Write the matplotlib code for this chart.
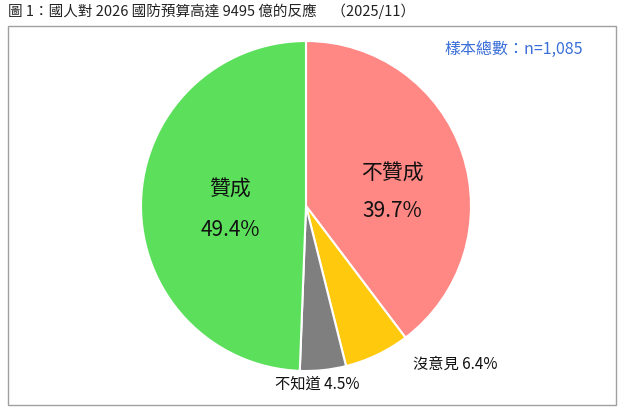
import matplotlib
matplotlib.use("Agg")
import matplotlib.pyplot as plt
from matplotlib.patches import Rectangle

plt.rcParams['font.family'] = ['Noto Sans CJK TC', 'DejaVu Sans']

labels = ['不贊成', '沒意見', '不知道', '贊成']
values = [39.7, 6.4, 4.5, 49.4]
colors = ['#FF8784', '#FFC90E', '#7F7F7F', '#5CE05C']

W, H = 626, 412
fig = plt.figure(figsize=(W/100, H/100), dpi=100)
fig.patch.set_facecolor('white')
fig.add_artist(Rectangle((8/W, 1-405/H), 608/W, 379/H, transform=fig.transFigure,
                         fill=False, edgecolor='#A0A0A0', lw=1))
fig.text(8/W, 1-11/H, '圖 1：國人對 2026 國防預算高達 9495 億的反應　（2025/11）',
         fontsize=10.5, va='center', ha='left', color='#222222')
fig.text(583/W, 1-49/H, '樣本總數：n=1,085', fontsize=11.5, color='#3A6FD8',
         ha='right', va='center', fontweight='medium')

cx, cy, r = 306, 206, 165
ax = fig.add_axes([(cx-r)/W, 1-(cy+r)/H, 2*r/W, 2*r/H])
ax.pie(values, colors=colors, startangle=90, counterclock=False,
       wedgeprops=dict(edgecolor='white', linewidth=1.5))
ax.set_aspect('equal')
ax.set_xlim(-1, 1); ax.set_ylim(-1, 1)
ax.axis('off')

def t(x, y, s, size):
    fig.text(x/W, 1-y/H, s, fontsize=size, ha='center', va='center',
             color='#111111', fontweight='medium')

t(392, 174, labels[0], 15)
t(392, 211, f'{values[0]}%', 15)
t(230, 190, labels[3], 15)
t(230, 230, f'{values[3]}%', 15)
t(455, 364, f'{labels[1]} {values[1]}%', 11)
t(317, 384, f'{labels[2]} {values[2]}%', 11)

fig.savefig('out.png', dpi=100, facecolor='white')
